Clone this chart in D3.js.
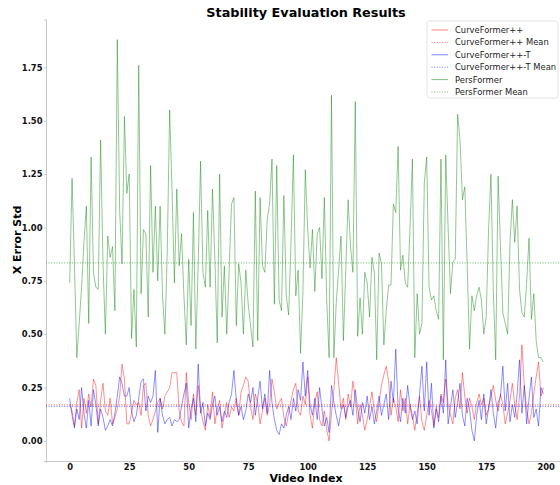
<!DOCTYPE html>
<html>
<head>
<meta charset="utf-8">
<script src="https://cdn.jsdelivr.net/npm/d3@7"></script>
<style>
  body { margin: 0; background: white; }
  svg { font-family: "DejaVu Sans", sans-serif; }
</style>
</head>
<body>
<svg id="chart" width="560" height="485"></svg>
<script>
// per-video x error std
var curveFormer = [
  0.17, 0.14, 0.07, 0.18, 0.24, 0.06, 0.20, 0.13, 0.22, 0.16,
  0.29, 0.26, 0.08, 0.19, 0.27, 0.14, 0.12, 0.20, 0.08, 0.11,
  0.15, 0.21, 0.36, 0.29, 0.08, 0.08, 0.13, 0.19, 0.17, 0.18,
  0.12, 0.26, 0.27, 0.12, 0.07, 0.10, 0.14, 0.18, 0.20, 0.15,
  0.21, 0.23, 0.25, 0.32, 0.32, 0.32, 0.14, 0.09, 0.07, 0.32,
  0.18, 0.10, 0.22, 0.12, 0.26, 0.15, 0.09, 0.05, 0.17, 0.11,
  0.23, 0.08, 0.15, 0.19, 0.06, 0.12, 0.18, 0.11, 0.16, 0.14,
  0.20, 0.12, 0.23, 0.26, 0.30, 0.28, 0.16, 0.10, 0.22, 0.18,
  0.08, 0.14, 0.20, 0.12, 0.17, 0.29, 0.23, 0.15, 0.18, 0.20,
  0.11, 0.07, 0.13, 0.19, 0.24, 0.27, 0.14, 0.12, 0.21, 0.17,
  0.30, 0.12, 0.06, 0.18, 0.23, 0.10, 0.07, 0.14, 0.05, 0.00,
  0.13, 0.24, 0.39, 0.27, 0.15, 0.20, 0.10, 0.22, 0.16, 0.28,
  0.20, 0.08, 0.17, 0.12, 0.05, 0.10, 0.16, 0.23, 0.14, 0.09,
  0.18, 0.26, 0.31, 0.35, 0.28, 0.12, 0.20, 0.16, 0.09, 0.24,
  0.14, 0.20, 0.08, 0.17, 0.12, 0.05, 0.13, 0.21, 0.09, 0.05,
  0.12, 0.19, 0.14, 0.07, 0.16, 0.11, 0.22, 0.18, 0.29, 0.17,
  0.12, 0.08, 0.20, 0.24, 0.15, 0.32, 0.21, 0.13, 0.20, 0.16,
  0.10, 0.18, 0.22, 0.17, 0.20, 0.12, 0.15, 0.21, 0.26, 0.19,
  0.14, 0.22, 0.17, 0.08, 0.13, 0.19, 0.27, 0.17, 0.10, 0.21,
  0.45, 0.26, 0.15, 0.08, 0.13, 0.22, 0.30, 0.37, 0.21, 0.25
];

var curveFormerT = [
  0.20, 0.12, 0.06, 0.15, 0.10, 0.25, 0.13, 0.06, 0.19, 0.07,
  0.24, 0.17, 0.07, 0.15, 0.11, 0.05, 0.07, 0.10, 0.07, 0.13,
  0.21, 0.30, 0.27, 0.21, 0.21, 0.25, 0.14, 0.09, 0.12, 0.20,
  0.28, 0.29, 0.14, 0.21, 0.18, 0.21, 0.33, 0.04, 0.20, 0.12,
  0.08, 0.10, 0.11, 0.07, 0.10, 0.09, 0.10, 0.16, 0.22, 0.27,
  0.06, 0.15, 0.20, 0.09, 0.36, 0.13, 0.18, 0.07, 0.13, 0.10,
  0.17, 0.21, 0.12, 0.16, 0.09, 0.14, 0.11, 0.18, 0.22, 0.33,
  0.19, 0.12, 0.16, 0.10, 0.14, 0.22, 0.18, 0.25, 0.12, 0.20,
  0.28, 0.15, 0.22, 0.13, 0.33, 0.18, 0.10, 0.05, 0.03, 0.08,
  0.06, 0.12, 0.16, 0.10, 0.20, 0.14, 0.24, 0.19, 0.37, 0.21,
  0.33, 0.17, 0.12, 0.20, 0.10, 0.25, 0.15, 0.07, 0.11, 0.04,
  0.26, 0.18, 0.12, 0.07, 0.14, 0.17, 0.11, 0.16, 0.19, 0.12,
  0.24, 0.15, 0.09, 0.18, 0.13, 0.21, 0.10, 0.16, 0.08, 0.14,
  0.21, 0.12, 0.17, 0.22, 0.10, 0.28, 0.18, 0.43, 0.15, 0.09,
  0.20, 0.13, 0.26, 0.16, 0.10, 0.14, 0.08, 0.22, 0.35, 0.14,
  0.37, 0.12, 0.27, 0.06, 0.15, 0.09, 0.21, 0.13, 0.38, 0.08,
  0.16, 0.24, 0.11, 0.18, 0.27, 0.12, 0.07, 0.20, 0.15, 0.05,
  0.00, 0.12, 0.19, 0.10, 0.22, 0.08, 0.15, 0.24, 0.13, 0.06,
  0.18, 0.21, 0.35, 0.14, 0.27, 0.09, 0.17, 0.11, 0.22, 0.38,
  0.13, 0.26, 0.08, 0.20, 0.30, 0.11, 0.15, 0.07, 0.25, 0.22
];

var persFormer = [
  0.74, 1.23, 0.83, 0.39, 0.55, 0.72, 0.93, 1.10, 0.55, 1.33,
  0.79, 0.72, 0.71, 1.41, 0.83, 0.50, 0.96, 0.86, 0.91, 0.61,
  1.88, 1.08, 0.83, 1.52, 1.16, 1.25, 0.48, 0.71, 0.44, 1.76,
  0.69, 0.99, 0.97, 0.58, 1.29, 0.79, 1.10, 0.75, 1.10, 0.68,
  0.50, 0.89, 1.55, 1.18, 0.74, 1.18, 0.82, 0.97, 0.68, 0.45,
  0.85, 0.54, 1.07, 0.43, 0.83, 1.31, 0.79, 0.72, 1.08, 0.72,
  1.18, 0.85, 0.46, 1.25, 0.58, 0.82, 0.50, 0.80, 1.11, 1.14,
  0.54, 0.83, 0.74, 0.50, 0.80, 0.64, 0.54, 0.44, 1.17, 0.47,
  1.14, 0.82, 0.79, 1.04, 1.11, 1.32, 0.64, 1.29, 0.66, 0.61,
  1.15, 0.68, 0.59, 0.93, 1.34, 0.68, 0.80, 0.41, 0.70, 1.27,
  0.99, 0.81, 0.99, 0.70, 0.97, 1.00, 0.76, 1.14, 0.66, 0.39,
  1.62, 0.39, 0.65, 0.80, 0.96, 0.47, 0.80, 1.13, 0.91, 0.79,
  1.59, 0.49, 0.67, 0.50, 0.79, 0.74, 0.58, 0.86, 0.79, 0.38,
  0.88, 0.83, 0.45, 0.61, 0.73, 0.73, 1.11, 1.07, 1.38, 0.80,
  0.87, 0.74, 0.72, 1.00, 1.32, 0.39, 0.69, 0.50, 0.55, 1.21,
  1.33, 0.72, 0.66, 0.68, 0.61, 0.57, 1.32, 0.38, 1.34, 1.00,
  0.69, 0.84, 0.85, 1.53, 1.41, 1.13, 1.19, 0.83, 0.43, 0.68,
  0.61, 0.68, 0.72, 0.66, 0.50, 0.58, 0.99, 1.25, 0.70, 0.38,
  1.24, 0.91, 0.60, 0.55, 0.50, 0.93, 1.13, 0.93, 1.10, 0.71,
  0.60, 0.58, 0.74, 0.95, 0.57, 0.69, 0.47, 0.39, 0.39, 0.37
];

// mean lines as drawn in the figure
var seriesMeans = [0.169, 0.162, 0.834];
var seriesNames = ["CurveFormer++", "CurveFormer++-T", "PersFormer"];
var seriesColors = ["#ff0000", "#0000ff", "#008000"];
var yTicks = [0, 0.25, 0.5, 0.75, 1.0, 1.25, 1.5, 1.75];
var xTicks = [0, 25, 50, 75, 100, 125, 150, 175, 200];

var svg = d3.select("#chart");

var series = [curveFormer, curveFormerT, persFormer].map(function(vals, k) {
  return { name: seriesNames[k], color: seriesColors[k], values: vals, mean: seriesMeans[k] };
});

var n = persFormer.length;
var allVals = d3.merge([curveFormer, curveFormerT, persFormer]);
var ymin = d3.min(allVals), ymax = d3.max(allVals);
var ypad = (ymax - ymin) * 0.05, xpad = (n - 1) * 0.05;

var plotLeft = 46, plotRight = 567, plotTop = 19.5, plotBottom = 461;

var x = d3.scaleLinear()
  .domain([-xpad, n - 1 + xpad])
  .range([plotLeft, plotRight]);

var y = d3.scaleLinear()
  .domain([ymin - ypad, ymax + ypad])
  .range([plotBottom, plotTop]);

var line = d3.line()
  .x(function(d, i) { return x(i); })
  .y(function(d) { return y(d); });

// axes
var xAxis = svg.append("g")
  .attr("transform", "translate(0," + plotBottom + ")")
  .call(d3.axisBottom(x).tickValues(xTicks).tickFormat(d3.format("d")).tickSize(2).tickPadding(1.5));

var yAxis = svg.append("g")
  .attr("transform", "translate(" + plotLeft + ",0)")
  .call(d3.axisLeft(y).tickValues(yTicks).tickFormat(d3.format(".2f")).tickSize(2).tickPadding(1.5));

[xAxis, yAxis].forEach(function(ax) {
  ax.attr("font-family", null);
  ax.select(".domain").attr("stroke", "#c8c8c8").attr("stroke-width", 1);
  ax.selectAll(".tick line").attr("stroke", "#c8c8c8");
  ax.selectAll(".tick text")
    .attr("fill", "#111")
    .style("font-size", "8.4px")
    .style("font-weight", "bold");
});

// series + mean lines
var g = svg.append("g");
series.forEach(function(s) {
  g.append("path")
    .datum(s.values)
    .attr("d", line)
    .attr("fill", "none")
    .attr("stroke", s.color)
    .attr("stroke-opacity", 0.55)
    .attr("stroke-width", 0.8);

  g.append("line")
    .attr("x1", plotLeft)
    .attr("x2", plotRight)
    .attr("y1", y(s.mean))
    .attr("y2", y(s.mean))
    .attr("stroke", s.color)
    .attr("stroke-opacity", 0.6)
    .attr("stroke-width", 1)
    .attr("stroke-dasharray", "1,1.6");
});

// title & labels
svg.append("text")
  .attr("x", 306)
  .attr("y", 17)
  .attr("text-anchor", "middle")
  .style("font-size", "12.8px")
  .style("font-weight", "bold")
  .text("Stability Evaluation Results");

svg.append("text")
  .attr("x", 306)
  .attr("y", 481.5)
  .attr("text-anchor", "middle")
  .style("font-size", "11px")
  .style("font-weight", "bold")
  .text("Video Index");

svg.append("text")
  .attr("transform", "translate(20.5,240) rotate(-90)")
  .attr("text-anchor", "middle")
  .style("font-size", "11px")
  .style("font-weight", "bold")
  .text("X Error Std");

// legend
var legend = svg.append("g").attr("transform", "translate(427,21)");
legend.append("rect")
  .attr("width", 131)
  .attr("height", 77)
  .attr("rx", 2.5)
  .attr("fill", "white")
  .attr("fill-opacity", 0.85)
  .attr("stroke", "#dddddd")
  .attr("stroke-width", 0.8);

var entries = [];
series.forEach(function(s) {
  entries.push({ label: s.name, color: s.color, dash: null });
  entries.push({ label: s.name + " Mean", color: s.color, dash: "1,1.6" });
});

var item = legend.selectAll(".item")
    .data(entries)
  .enter().append("g")
    .attr("class", "item")
    .attr("transform", function(d, i) { return "translate(0," + (9 + i * 12.4) + ")"; });

item.append("line")
  .attr("x1", 4.5)
  .attr("x2", 21)
  .attr("stroke", d => d.color)
  .attr("stroke-opacity", 0.55)
  .attr("stroke-width", d => d.dash ? 1 : 0.9)
  .attr("stroke-dasharray", d => d.dash);

var labels = item.append("text")
  .attr("x", 28)
  .attr("dy", "0.35em")
  .style("font-size", "8.4px")
  .attr("fill", "#222")
  .text(d => d.label);

// fit legend text to the width seen in the figure (longest label ~102px)
var longest = d3.max(labels.nodes(), function(t) { return t.getComputedTextLength(); });
if (longest > 0) {
  var fs = Math.min(11, 8.4 * 101 / longest);
  labels.style("font-size", fs + "px");
}
</script>
</body>
</html>
